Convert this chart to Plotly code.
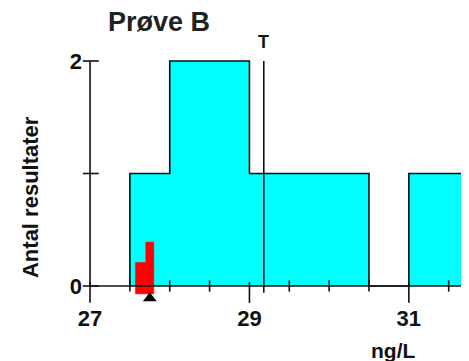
import plotly.graph_objects as go

# ---- data ----
bin_edges = [27.5, 28.0, 28.5, 29.0, 29.5, 30.0, 30.5, 31.0, 31.5, 32.0]
bin_counts = [1, 2, 2, 1, 1, 1, 0, 1, 1]
own_left = [27.57, 27.70]
own_right = [27.70, 27.80]
own_heights = [0.21, 0.39]
own_base = -0.07
own_mean = 27.75
target_value = 29.18
x_tickvals = [27, 29, 31]
x_ticktext = ["27", "29", "31"]
x_minor = [27.5, 28.0, 28.5, 29.5, 30.0, 30.5, 31.5]
y_tickvals = [0, 1, 2]
y_ticktext = ["0", "", "2"]
x_range = [26.8616, 31.7547]
y_range = [-0.1778, 2.2222]

LINE = dict(color="#111111", width=1.6)

# ---- histogram outline (step polygon) ----
hx, hy = [bin_edges[0]], [0]
prev = 0
for i, e in enumerate(bin_edges):
    cur = bin_counts[i] if i < len(bin_counts) else 0
    hx += [e, e]
    hy += [prev, cur]
    prev = cur

fig = go.Figure()
fig.add_trace(go.Scatter(x=hx, y=hy, mode="lines", fill="toself",
                         fillcolor="#00FFFF", line=LINE,
                         hoverinfo="skip", showlegend=False))

# own results (red bars) as filled rectangles
for l, r, h in zip(own_left, own_right, own_heights):
    fig.add_trace(go.Scatter(x=[l, r, r, l, l], y=[own_base, own_base, h, h, own_base],
                             mode="lines", fill="toself", fillcolor="#FF0000",
                             line=dict(color="#FF0000", width=0.5),
                             showlegend=False, hoverinfo="skip"))

# axis lines
fig.add_trace(go.Scatter(x=[x_tickvals[0], x_range[1]], y=[0, 0], mode="lines",
                         line=LINE, showlegend=False, hoverinfo="skip"))
fig.add_trace(go.Scatter(x=[x_tickvals[0], x_tickvals[0]], y=[0, y_tickvals[-1]], mode="lines",
                         line=LINE, showlegend=False, hoverinfo="skip"))

# ticks
tx, ty = [], []
for v in x_tickvals:
    tx += [v, v, None]
    ty += [0.035, -0.15, None]
for v in x_minor:
    tx += [v, v, None]
    ty += [0.05, -0.05, None]
for v in y_tickvals:
    tx += [x_tickvals[0] - 0.09, x_tickvals[0] + 0.11, None]
    ty += [v, v, None]
fig.add_trace(go.Scatter(x=tx, y=ty, mode="lines", line=LINE,
                         showlegend=False, hoverinfo="skip"))

# target line
fig.add_trace(go.Scatter(x=[target_value, target_value], y=[-0.06, 2], mode="lines",
                         line=LINE, showlegend=False, hoverinfo="skip"))

# mean marker
fig.add_trace(go.Scatter(x=[own_mean], y=[-0.11], mode="markers",
                         marker=dict(symbol="triangle-up", size=12, color="#000000"),
                         cliponaxis=False, showlegend=False, hoverinfo="skip"))

fig.add_annotation(x=target_value, y=2, xref="x", yref="y", text="T", showarrow=False,
                   yshift=19, yanchor="middle",
                   font=dict(family="Liberation Sans", size=18, color="#111111", weight="bold"))
fig.add_annotation(x=0.205, y=1.052, xref="paper", yref="paper", text="Prøve B", showarrow=False,
                   xanchor="center", yanchor="middle",
                   font=dict(family="Liberation Sans", size=27, color="#222222", weight="bold"))
fig.add_annotation(x=0.805, y=-0.163, xref="paper", yref="paper", text="ng/L", showarrow=False,
                   xanchor="center", yanchor="middle",
                   font=dict(family="Liberation Sans", size=21, color="#111111", weight="bold"))
fig.add_annotation(x=-0.1256, y=0.4037, xref="paper", yref="paper", text="Antal resultater",
                   showarrow=False, textangle=-90, xanchor="center", yanchor="middle",
                   font=dict(family="Liberation Sans", size=22, color="#111111", weight="bold"))

TICKFONT = dict(family="Liberation Sans", size=22, color="#111111", weight="bold")
fig.update_layout(
    width=461, height=353,
    margin=dict(l=71, r=0, t=28, b=55, autoexpand=False),
    plot_bgcolor="white", paper_bgcolor="white",
    xaxis=dict(range=x_range, tickvals=x_tickvals, ticktext=x_ticktext, ticks="",
               showgrid=False, zeroline=False, showline=False, automargin=False,
               ticklabelstandoff=-3, tickfont=TICKFONT),
    yaxis=dict(range=y_range, tickvals=y_tickvals, ticktext=y_ticktext, ticks="",
               showgrid=False, zeroline=False, showline=False, automargin=False,
               ticklabelstandoff=-4, tickfont=TICKFONT),
)

fig.write_html("out.html")
